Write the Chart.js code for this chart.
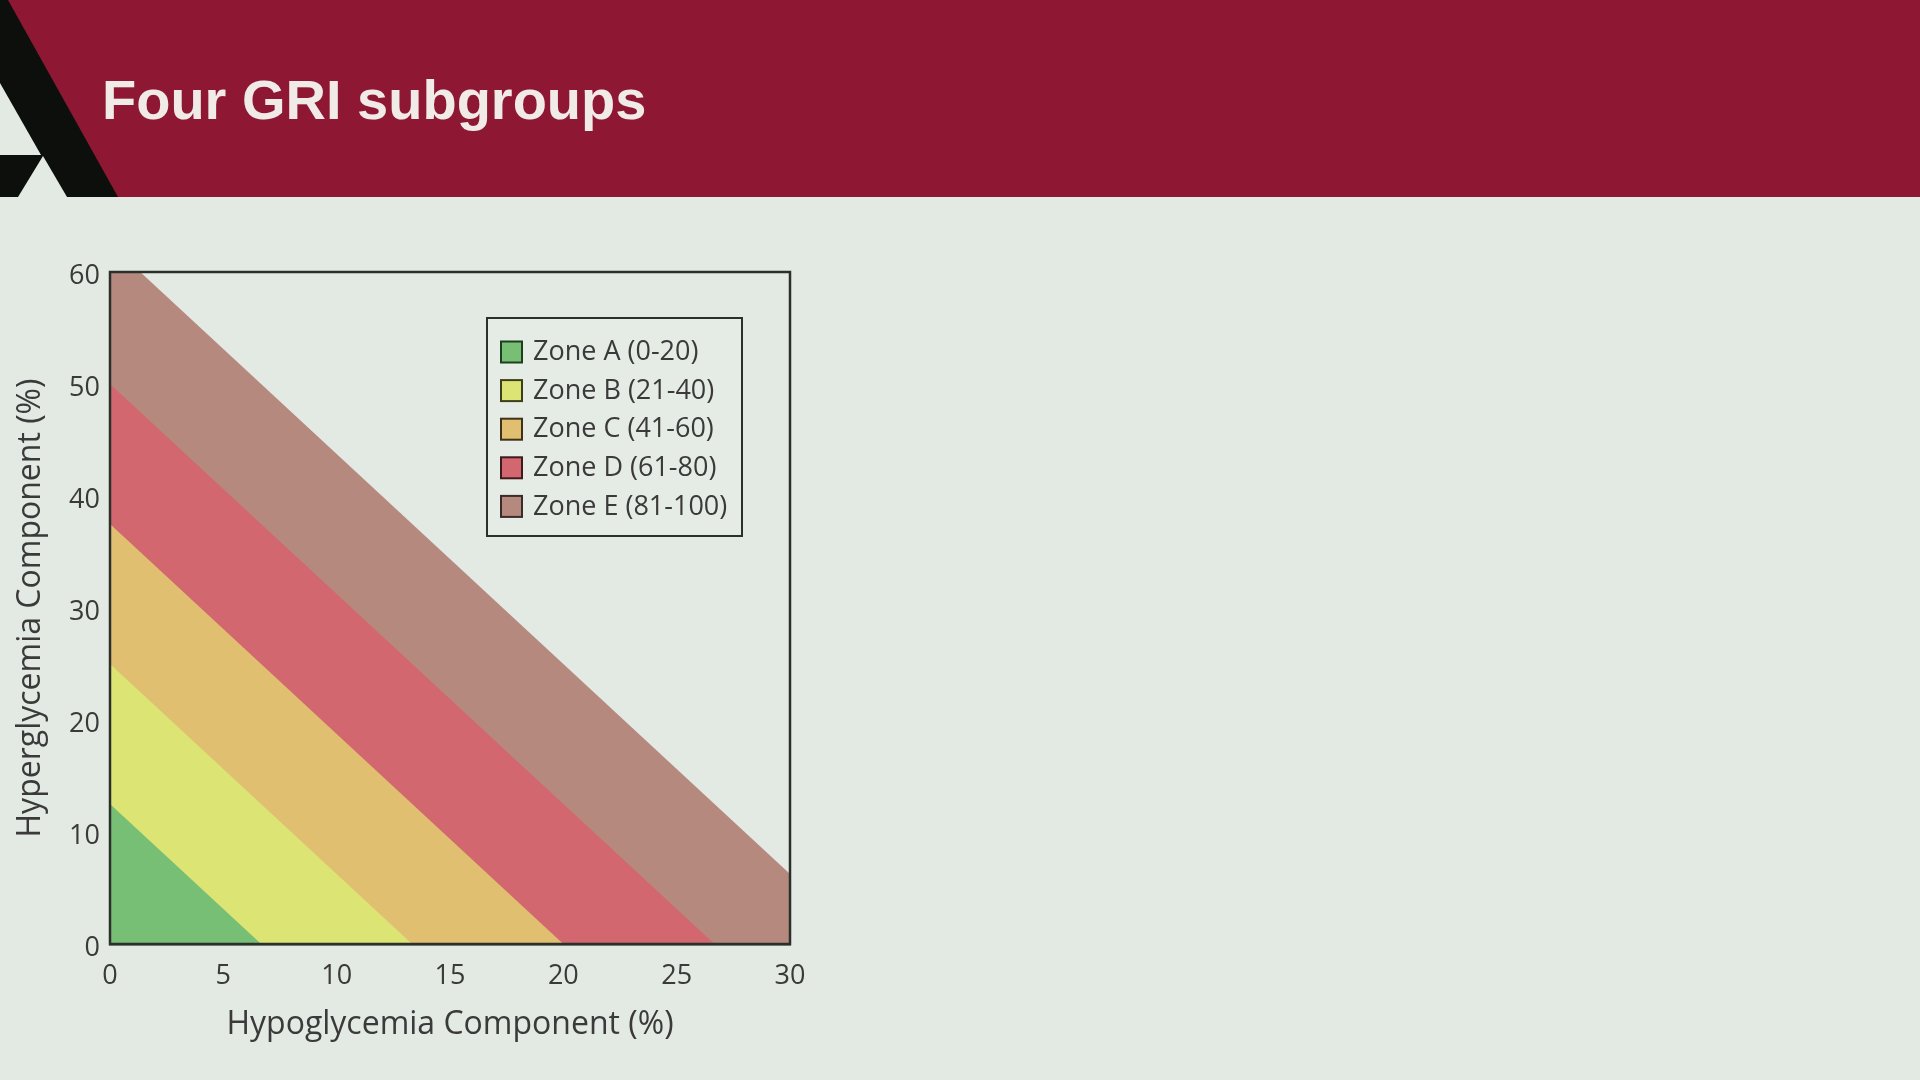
<!DOCTYPE html>
<html>
<head>
<meta charset="utf-8">
<script src="https://cdn.jsdelivr.net/npm/chart.js@4.4.1/dist/chart.umd.min.js"></script>
<style>
  html, body { margin: 0; padding: 0; width: 1920px; height: 1080px; overflow: hidden; background: #e3e9e3; }
  #header { position: absolute; left: 0; top: 0; }
  #wrap { position: absolute; left: 0; top: 0; width: 1920px; height: 1080px; }
</style>
</head>
<body>
<svg id="header" width="1920" height="197" viewBox="0 0 1920 197">
  <rect x="0" y="0" width="1920" height="197" fill="#8e1733"/>
  <polygon points="0,0 8,0 118,197 0,197" fill="#0c0f0b"/>
  <polygon points="0,83 41,155 0,155" fill="#e3e9e3"/>
  <polygon points="43,156 67,197 18,197" fill="#e3e9e3"/>
  <text x="102" y="119" font-family="Liberation Sans, Arial, sans-serif" font-weight="bold" font-size="56" fill="#f1ebe8">Four GRI subgroups</text>
</svg>
<div id="wrap"><canvas id="c" width="1920" height="1080"></canvas></div>
<script>
// ---- Data ----
const zoneLabels = ['Zone A (0-20)', 'Zone B (21-40)', 'Zone C (41-60)', 'Zone D (61-80)', 'Zone E (81-100)'];
// Upper boundary of each zone: hyperglycemia value where it meets x = 0
const hyperIntercepts = [12.5, 25, 37.5, 50, 62.5];
// Upper boundary of each zone: hypoglycemia value where it meets y = 0
const hypoIntercepts = [6.67, 13.33, 20, 26.67, 33.33];
const xTicks = [0, 5, 10, 15, 20, 25, 30];
const yTicks = [0, 10, 20, 30, 40, 50, 60];

// ---- Styles ----
const zoneColors = ['#78bf76', '#dce473', '#e0bf70', '#d2676f', '#b6897f'];
const zoneEdge = ['#1d3f1d', '#3d3f1a', '#3f3218', '#3f1a1d', '#3a2a28'];
const axisColor = '#2c302c';
const textColor = '#3a3a3a';
const fontFamily = '"Open Sans", "Noto Sans", sans-serif';

const datasets = zoneLabels.map((label, i) => ({
  label: label,
  data: [{ x: 0, y: hyperIntercepts[i] }, { x: hypoIntercepts[i], y: 0 }],
  borderWidth: 0,
  borderColor: zoneColors[i],
  backgroundColor: zoneColors[i],
  pointRadius: 0,
  fill: 'origin',
  tension: 0
}));

const frameAndLegend = {
  id: 'frameAndLegend',
  afterDraw(chart) {
    const { ctx, chartArea: a } = chart;
    ctx.save();
    // frame
    ctx.strokeStyle = axisColor;
    ctx.lineWidth = 2.5;
    ctx.strokeRect(a.left, a.top, a.right - a.left, a.bottom - a.top);
    // legend box
    const bx = a.left + 377, by = a.top + 46, bw = 255, bh = 218;
    ctx.fillStyle = '#e5ebe5';
    ctx.fillRect(bx, by, bw, bh);
    ctx.lineWidth = 2;
    ctx.strokeRect(bx, by, bw, bh);
    ctx.font = '27px ' + fontFamily;
    ctx.textBaseline = 'middle';
    ctx.textAlign = 'left';
    chart.data.datasets.forEach((ds, i) => {
      const cy = by + 33.5 + i * 38.6;
      ctx.fillStyle = ds.backgroundColor;
      ctx.fillRect(bx + 14, cy - 10, 21, 21);
      ctx.strokeStyle = zoneEdge[i];
      ctx.lineWidth = 2;
      ctx.strokeRect(bx + 14, cy - 10, 21, 21);
      ctx.fillStyle = textColor;
      ctx.fillText(ds.label, bx + 46, cy + 1);
    });
    ctx.restore();
  }
};

new Chart(document.getElementById('c'), {
  type: 'line',
  data: { datasets: datasets },
  plugins: [frameAndLegend],
  options: {
    responsive: false,
    animation: false,
    devicePixelRatio: 1,
    layout: { padding: { left: 0, top: 272, right: 1130, bottom: 0 } },
    plugins: { legend: { display: false }, tooltip: { enabled: false } },
    scales: {
      x: {
        type: 'linear', min: 0, max: 30,
        afterBuildTicks: s => { s.ticks = xTicks.map(v => ({ value: v })); },
        afterFit: s => { s.height = 136; },
        grid: { display: false, drawTicks: false },
        border: { display: true, color: axisColor, width: 2.5 },
        ticks: { padding: 16, color: textColor, font: { family: fontFamily, size: 27 } },
        title: { display: true, text: 'Hypoglycemia Component (%)', color: textColor,
                 font: { family: fontFamily, size: 32 }, padding: { top: 0, bottom: 36 } }
      },
      y: {
        type: 'linear', min: 0, max: 60,
        afterBuildTicks: s => { s.ticks = yTicks.map(v => ({ value: v })); },
        afterFit: s => { s.width = 110; },
        grid: { display: false, drawTicks: false },
        border: { display: true, color: axisColor, width: 2.5 },
        ticks: { padding: 10, labelOffset: 4, color: textColor, font: { family: fontFamily, size: 27 } },
        title: { display: true, text: 'Hyperglycemia Component (%)', color: textColor,
                 font: { family: fontFamily, size: 32 }, padding: { top: 12, bottom: 0 } }
      }
    }
  }
});
</script>
</body>
</html>
